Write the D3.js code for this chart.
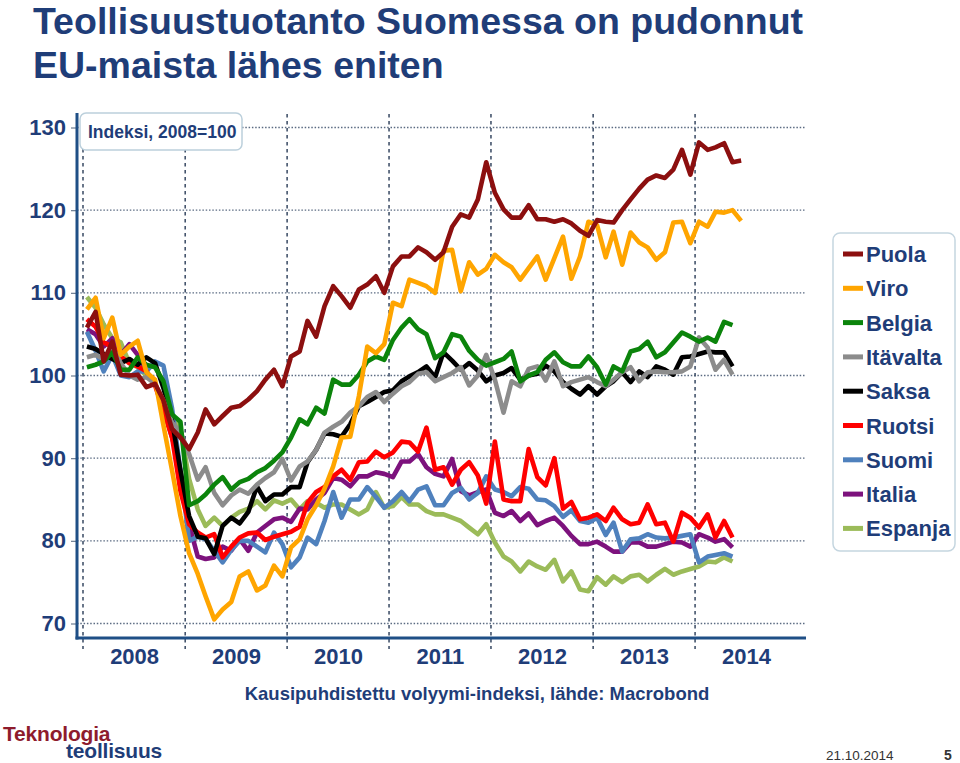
<!DOCTYPE html>
<html>
<head>
<meta charset="utf-8">
<script src="https://cdn.jsdelivr.net/npm/d3@7/dist/d3.min.js"></script>
<style>
  html, body { margin: 0; padding: 0; background: #fff; }
  svg { display: block; font-family: "Liberation Sans", Arial, sans-serif; }
</style>
</head>
<body>
<script>
// ---------- DATA (monthly index, 2008=100, first value = Jan 2008) ----------
const seriesNames = ["Puola", "Viro", "Belgia", "Itävalta", "Saksa", "Ruotsi", "Suomi", "Italia", "Espanja"];
const seriesColors = ["#8c0f0f", "#ffa500", "#0b840b", "#8c8c8c", "#000000", "#ff0000", "#4f81bd", "#7d127d", "#9bbb59"];

const puola = [105.8,107.7,101.7,104.1,100.1,100,100.1,98.6,99,97,93.5,92.5,91.1,93.1,95.9,94.1,95.1,96.1,96.3,97.1,
  98.1,99.5,100.7,98.7,102.3,102.9,106.6,104.7,108.4,110.8,109.6,108.2,110.4,111,112,110,113.2,114.4,114.4,115.5,
  114.9,114,114.9,118,119.5,119.1,121.3,125.8,122.1,120.1,119.1,119.1,120.6,118.9,118.9,118.6,118.9,118.4,117.5,116.9,
  118.8,118.6,118.5,120,121.3,122.6,123.7,124.2,123.9,124.9,127.3,124.3,128.2,127.3,127.6,128.1,125.8,126];
const viro = [108,109.4,104.5,107,102.5,103.5,104.2,100.4,99.5,94,88.5,83,78.5,76,73.3,70.5,71.7,72.6,75.7,76.3,
  74,74.6,77,75.7,79.2,80.2,82.6,84.3,86.3,89,92.5,92.6,97.5,103.5,102.7,103.8,108.8,108.4,111.6,111.2,
  110.8,110,115.1,115.2,110.2,113.7,112.2,112.9,114.6,113.7,113.1,111.6,113,114.4,111.6,114.2,116.8,111.7,114.4,118.6,
  118.2,114.3,117.4,113.4,117.3,116.1,115.5,114,114.9,118.5,118.6,116,118.6,118,119.8,119.7,120,118.7];
const belgia = [101,101.3,101.7,102.8,100.7,100.7,102.2,101.3,101,99.3,95.3,94.4,84.3,84.8,85.6,86.8,87.7,86.2,87.1,87.5,
  88.3,88.8,89.7,90.7,92.5,94.7,94.1,96.1,95.4,99.5,98.9,98.9,100.1,101.7,102.3,101.9,104.3,105.8,106.8,105.6,
  105,102.1,102.8,105,104.7,103,101.9,101.2,101.6,102,102.9,99.3,100,100.4,101.9,102.8,101.6,101.1,101.1,102.3,
  101,98.9,101.1,100.5,102.9,103.2,104.1,102.2,102.8,104,105.2,104.7,104.1,104.6,104.1,106.5,106.1];
const itavalta = [102.2,102.5,102,103.5,101.5,100,99.5,99.8,99,97,94.3,93.2,90.5,87.4,88.9,85.8,84.3,85.5,86.2,85.7,
  86.8,87.6,88.3,89.9,87.3,89,89.6,91,93.1,93.8,94.4,95.5,96.3,97.4,98,96.8,97.8,98.7,99.2,100.2,
  100.4,99.3,99.8,100.3,101,98.8,100,102.5,99.5,95.5,99.3,98.7,100.8,101.1,99.4,101.7,98.7,99.2,99.5,99.8,
  99.2,98.7,99.5,100.4,101,99.3,100.4,100.5,100.4,100.4,100.5,101.1,104.6,103.4,100.7,101.9,100.1];
const saksa = [103.5,103.2,102.6,102,101.5,102,101.3,102.2,101.5,98.5,94.5,88.5,83,80.5,80.3,78.4,81.8,82.8,82.1,83.5,
  86.6,84.8,85.6,85.6,86.5,86.5,89.5,91,93,92.9,92.6,94.1,96.3,96.8,97.4,98,98.2,99.3,99.9,100.4,
  101.1,99.8,102.8,101.8,100.7,101.5,100.6,99.3,100,100.3,100.9,99.5,100,100.2,101.2,100.5,99.2,98.4,97.7,98.7,
  97.7,98.7,99.3,100.4,99.2,100.5,99.8,101.1,100.7,100.1,102.2,102.3,102.6,102.9,102.8,102.8,101.1];
const ruotsi = [106.8,105.9,104,103.5,102.3,101.5,101.1,100.5,98.8,95.8,92.5,86,82,81,80.4,80.8,78,79.3,80.4,80.9,
  81,80.1,80.5,80.8,81.1,81.7,84.6,85.9,86.5,87.8,88.6,87.4,89.5,89.6,90.8,90.1,90.7,92,91.9,90.8,
  93.7,88.6,88.9,86.8,88.6,89.5,87.9,84.5,92,85,84.8,84.8,91.1,87.7,86.7,90,83.9,84.7,82.6,82.8,
  83.2,82.4,84,82.6,82,82.2,84.4,82,82.2,79.9,83.4,82.8,81.6,83.2,80.4,82.4,80.4];
const suomi = [105.3,103,100.5,102.5,100,99.8,100.5,100.5,101.7,101.2,96,88.5,80,80.5,80.2,78.8,77.4,78.9,80,80,
  79.3,78.6,81,79.6,76.8,78,80.4,79.6,82.4,85.9,82.8,85,85,86.5,85.3,84,84.8,85.9,84.8,86.2,
  86.6,84.3,84.3,85.8,86.4,85,85.8,87.8,86.2,85.9,85.4,86.5,86.3,85,84.9,84.2,82.9,83.7,82.4,82.2,
  82.8,80.7,82.2,78.7,80.2,80.3,80.8,80.4,80.3,80.4,80.6,80.8,77.4,78.1,78.3,78.5,78.1];
const italia = [105.6,105,103.5,104.5,102.5,103.8,102.5,100.5,99,96,92.5,88.5,82,78.1,77.8,78,79.3,78.8,80.2,78.8,
  81,81.8,82.6,82.8,82.3,83.9,83.8,85,85.8,87.6,87.4,86.6,87.8,87.8,88.3,88.1,87.7,89.6,89.6,90.5,
  88.9,88.1,87.8,89.9,86,85.5,85.9,86.2,83.4,83,83.6,82.4,83.3,81.9,82.4,82.8,81.8,80.6,79.6,79.6,
  79.9,79.3,78.7,78.7,79.8,79.8,79.3,79.3,79.6,79.9,79.8,79.3,80.8,80.4,79.9,80.2,79.2];
const espanja = [109.5,108.2,106.2,104.5,104,101.5,101,100,99,96.5,95,93.5,87.5,83.8,81.8,82.8,81.8,82.8,83.5,83.9,
  84.8,83.8,84.9,84.5,85,83.8,84.8,84.6,84,84.4,84.4,83.8,83.2,83.8,85.9,84,84.2,85.3,84.4,84.4,
  83.6,83.2,83.2,82.8,82.4,81.6,80.8,82,79.8,78.1,77.5,76.3,77.5,76.9,76.5,77.7,75.1,76.3,74.1,73.9,
  75.6,74.7,75.7,75,75.7,75.9,75.1,75.9,76.6,75.9,76.3,76.6,76.9,77.5,77.4,78,77.5];
const seriesValues = [puola, viro, belgia, itavalta, saksa, ruotsi, suomi, italia, espanja];

const yTicks = [70, 80, 90, 100, 110, 120, 130];
const yearLabels = ["2008", "2009", "2010", "2011", "2012", "2013", "2014"];

const titleLines = ["Teollisuustuotanto Suomessa on pudonnut", "EU-maista lähes eniten"];
const indexLabel = "Indeksi, 2008=100";
const sourceLabel = "Kausipuhdistettu volyymi-indeksi, lähde: Macrobond";
const dateLabel = "21.10.2014";
const pageLabel = "5";

// ---------- LAYOUT ----------
const TEXT = "#1f3d78";
const W = 960, H = 763;
const svg = d3.select("body").append("svg").attr("width", W).attr("height", H);

const x = d3.scaleTime()
  .domain([new Date(2008, 0, 1), new Date(2015, 0, 1)])
  .range([83, 797]);
const y = d3.scaleLinear().domain([70, 130]).range([623.5, 127.5]);

const axisLeftX = 77, axisBottomY = 638, plotRight = 806;

// Title
svg.append("g").selectAll("text").data(titleLines).join("text")
  .attr("x", 33).attr("y", (d, i) => 34 + i * 44)
  .attr("font-size", 37.5).attr("font-weight", "bold").attr("fill", TEXT)
  .text(d => d);

// Horizontal dotted gridlines
svg.append("g").selectAll("line").data(yTicks).join("line")
  .attr("x1", axisLeftX).attr("x2", plotRight)
  .attr("y1", d => y(d)).attr("y2", d => y(d))
  .attr("stroke", "#5b6b82").attr("stroke-width", 1.3).attr("stroke-dasharray", "1.5,1.8");

// Vertical dashed year lines
const yearStarts = yearLabels.map(s => new Date(+s, 0, 1));
svg.append("g").selectAll("line").data(yearStarts).join("line")
  .attr("x1", d => x(d)).attr("x2", d => x(d))
  .attr("y1", 114).attr("y2", 649)
  .attr("stroke", "#44546c").attr("stroke-width", 1.6).attr("stroke-dasharray", "3.5,3.5");

// Y axis (labels + ticks)
const yAxis = svg.append("g").attr("transform", `translate(${axisLeftX},0)`)
  .call(d3.axisLeft(y).tickValues(yTicks).tickSize(6).tickPadding(5).tickFormat(d3.format("d")));
yAxis.select(".domain").remove();
yAxis.selectAll(".tick line").attr("stroke", "#6b7b90").attr("stroke-width", 1.2);
yAxis.selectAll(".tick text").attr("font-size", 22).attr("font-weight", "bold")
  .attr("fill", TEXT).attr("font-family", "Liberation Sans, Arial, sans-serif");

// X axis labels
const xAxis = svg.append("g").attr("transform", `translate(0,${axisBottomY})`)
  .call(d3.axisBottom(x).tickValues(yearLabels.map(s => new Date(+s, 6, 2)))
    .tickSize(0).tickPadding(10).tickFormat(d3.timeFormat("%Y")));
xAxis.select(".domain").remove();
xAxis.selectAll(".tick text").attr("font-size", 22).attr("font-weight", "bold")
  .attr("fill", TEXT).attr("font-family", "Liberation Sans, Arial, sans-serif");

// Axis lines
svg.append("line").attr("x1", axisLeftX).attr("x2", axisLeftX).attr("y1", 113).attr("y2", axisBottomY + 1.5)
  .attr("stroke", "#1f4f86").attr("stroke-width", 3);
svg.append("line").attr("x1", axisLeftX - 1.5).attr("x2", plotRight).attr("y1", axisBottomY).attr("y2", axisBottomY)
  .attr("stroke", "#1f4f86").attr("stroke-width", 3);

// Lines
const line = d3.line()
  .x((d, i) => x(new Date(2008, i, 15)))
  .y(d => y(d));
const order = d3.range(seriesNames.length).reverse();
svg.append("g").attr("fill", "none").selectAll("path").data(order).join("path")
  .attr("d", k => line(seriesValues[k]))
  .attr("stroke", k => seriesColors[k])
  .attr("stroke-width", 4.6)
  .attr("stroke-linejoin", "round")
  .attr("stroke-linecap", "butt");

// Index label box
svg.append("rect").attr("x", 80).attr("y", 113).attr("width", 162).attr("height", 37).attr("rx", 6)
  .attr("fill", "#fff").attr("stroke", "#bcd0dc").attr("stroke-width", 1.5);
svg.append("text").attr("x", 88).attr("y", 138).attr("font-size", 17.5).attr("font-weight", "bold")
  .attr("fill", TEXT).text(indexLabel);

// Legend
svg.append("rect").attr("x", 833).attr("y", 233).attr("width", 122).attr("height", 318).attr("rx", 7)
  .attr("fill", "#fff").attr("stroke", "#c5d6e0").attr("stroke-width", 1.5);
const lg = svg.append("g").selectAll("g").data(seriesNames).join("g")
  .attr("transform", (d, i) => `translate(843,${254 + i * 34.3})`);
lg.append("line").attr("x1", 0).attr("x2", 20).attr("y1", 0).attr("y2", 0)
  .attr("stroke", (d, i) => seriesColors[i]).attr("stroke-width", 5);
lg.append("text").attr("x", 23).attr("y", 8).attr("font-size", 22).attr("font-weight", "bold")
  .attr("fill", TEXT).text(d => d);

// Source note
svg.append("text").attr("x", 477).attr("y", 700).attr("text-anchor", "middle")
  .attr("font-size", 18.5).attr("font-weight", "bold").attr("fill", TEXT).text(sourceLabel);

// Footer logo text
svg.append("text").attr("x", 3).attr("y", 741).attr("font-size", 21).attr("font-weight", "bold")
  .attr("fill", "#8e1b2c").attr("letter-spacing", -0.2).text("Teknologia");
svg.append("text").attr("x", 66).attr("y", 758).attr("font-size", 21).attr("font-weight", "bold")
  .attr("fill", TEXT).attr("letter-spacing", -0.2).text("teollisuus");
svg.append("text").attr("x", 826).attr("y", 760).attr("font-size", 13.5)
  .attr("fill", "#333").text(dateLabel);
svg.append("text").attr("x", 944).attr("y", 760).attr("font-size", 14).attr("font-weight", "bold")
  .attr("fill", "#333").text(pageLabel);
</script>
</body>
</html>
